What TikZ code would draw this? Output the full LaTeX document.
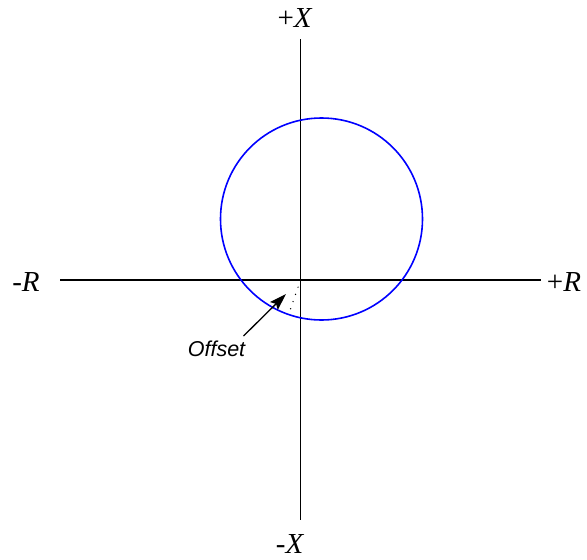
\documentclass[tikz,border=0pt]{standalone}
\usepackage{fontspec}
\setmainfont{Liberation Serif}
\newfontfamily\offsetfont{Liberation Sans}
\usetikzlibrary{arrows.meta,calc}
\begin{document}
\begin{tikzpicture}[x=1pt, y=-1pt, every node/.style={font=\fontsize{29}{34}\selectfont, inner sep=0pt}]
  \useasboundingbox (0,0) rectangle (587,560);
  % axes
  \coordinate (O)  at (300.5,280);  % origin
  \coordinate (Xt) at (300.5,39);   % top of X axis
  \coordinate (Xb) at (300.5,520);  % bottom of X axis
  \coordinate (Rl) at (60,280);     % left of R axis
  \coordinate (Rr) at (541,280);    % right of R axis
  \draw[line width=1.6pt] (Xt) -- (Xb);
  \draw[line width=1.6pt] (Rl) -- (Rr);
  % axis labels
  \node (xplus)  at (295,18)  {+\textit{X}};
  \node (xminus) at (290,544) {-\textit{X}};
  \node (rminus) at (26,282)  {-\textit{R}};
  \node (rplus)  at (564,282) {+\textit{R}};

  % circle, shifted off the origin
  \coordinate (C) at (321.5,219);
  \draw[blue, line width=1.6pt] (C) circle[radius=101pt];

  % dotted offset from origin to nearest point of circle
  \coordinate (P) at ($(C)!101pt!(O)$);
  \draw[line width=1.4pt, line cap=round, dash pattern=on 0pt off 7.6pt] (O) -- (P);

  % offset label with arrow
  \node (offset) at (216.5,349) {\offsetfont\itshape\fontsize{21.5}{25}\selectfont Offset};
  \coordinate (tail) at (243.5,336);
  \coordinate (tip)  at (286,294);
  \draw[line width=1.3pt, -{Stealth[length=17pt, width=11pt, inset=3pt]}] (tail) -- (tip);
\end{tikzpicture}
\end{document}
